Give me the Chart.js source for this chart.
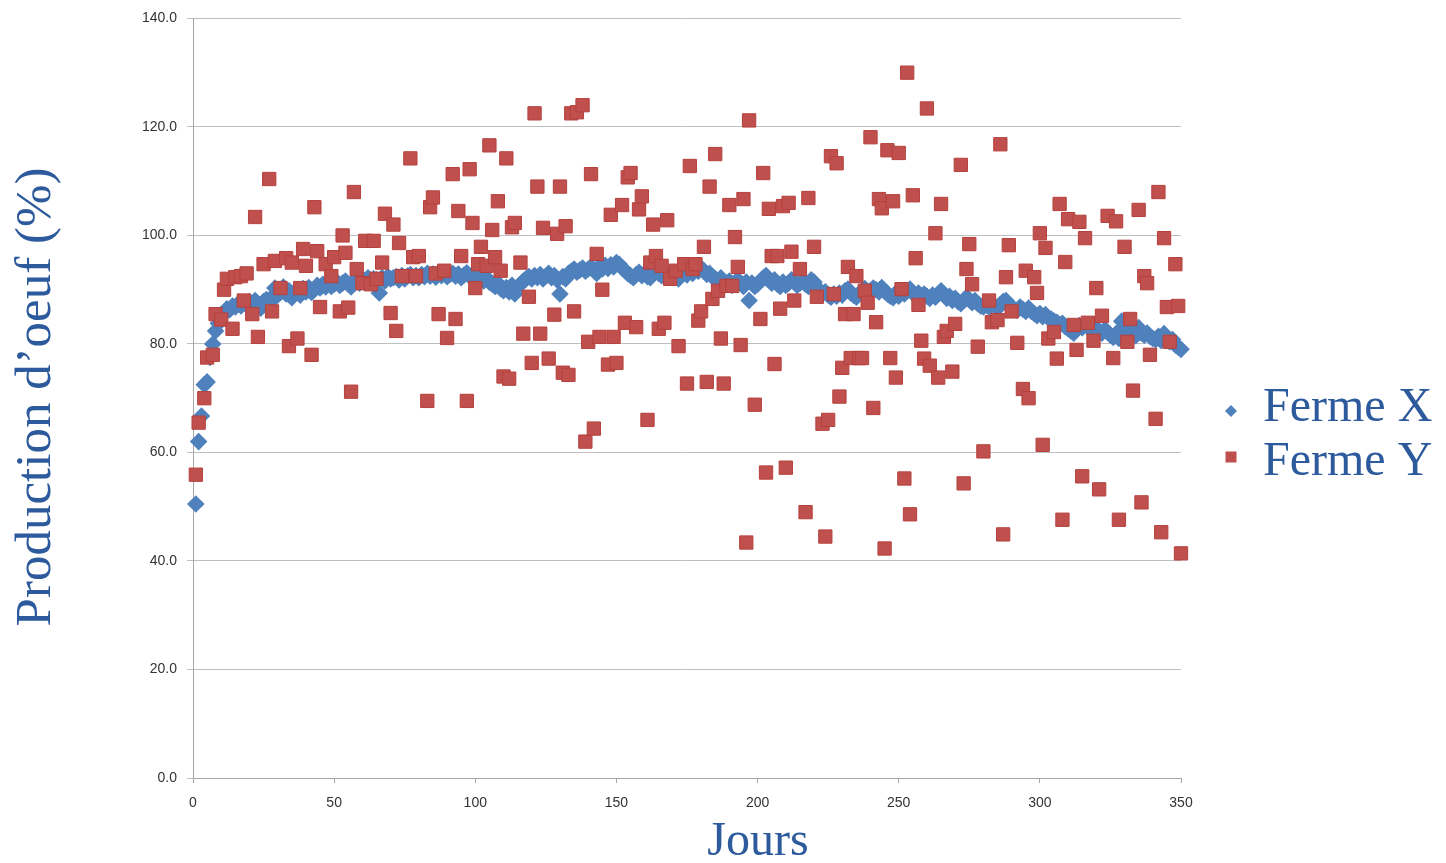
<!DOCTYPE html>
<html><head><meta charset="utf-8">
<script src="https://cdn.jsdelivr.net/npm/chart.js@4.4.1/dist/chart.umd.min.js"></script>
<style>html,body{margin:0;padding:0;background:#fff;overflow:hidden}#wrap{width:1446px;height:863px;position:relative}</style>
</head><body><div id="wrap"><canvas id="c"></canvas></div>
<script>
const seriesNames = ["Ferme X", "Ferme Y"];
const xTitle = "Jours";
const yTitle = "Production d’oeuf (%)";

const fermeXDays = Array.from({length: 350}, (_, i) => i + 1);
const fermeXValues = [
50.5,62.0,66.7,72.5,73.0,77.5,80.0,82.4,83.8,85.0,
85.6,86.5,86.3,87.0,86.8,87.4,87.0,87.6,87.2,87.8,
87.5,88.0,87.2,86.6,87.8,88.2,87.6,88.6,90.3,89.0,
89.5,90.5,89.2,89.8,88.5,89.6,90.0,89.0,90.2,89.6,
90.4,89.5,90.0,90.8,90.3,91.0,90.5,91.2,90.6,91.0,
91.4,90.8,91.2,91.6,91.0,90.5,91.5,91.8,91.2,92.0,
91.6,92.2,91.5,92.0,91.8,89.4,92.2,91.6,92.4,92.0,
92.2,92.4,91.8,92.6,92.0,92.5,92.8,92.2,92.6,92.2,
92.8,92.4,93.0,92.5,92.9,92.3,93.1,92.6,93.0,92.4,
92.8,93.0,92.5,92.9,92.2,92.7,93.1,92.5,92.8,92.2,
92.6,92.0,91.6,92.2,91.4,91.0,90.6,91.2,90.2,89.8,
90.4,89.6,90.8,89.2,90.5,91.0,91.6,92.0,92.4,92.0,
92.6,92.2,92.8,92.0,92.5,93.0,92.2,92.6,91.8,89.2,
92.4,92.0,93.0,93.4,93.8,93.2,93.6,94.0,93.4,93.8,
94.2,93.6,93.0,94.3,93.8,94.5,93.9,94.6,94.2,95.0,
94.7,94.0,93.5,93.0,92.6,92.2,92.8,93.2,92.6,93.0,
92.4,92.2,92.8,93.4,93.0,92.6,93.2,92.7,92.4,93.0,
92.5,92.0,92.8,93.3,92.7,93.6,93.0,94.0,93.4,94.0,
93.5,92.8,93.0,92.4,92.0,91.6,92.2,91.6,91.0,91.6,
90.8,91.3,91.8,91.2,90.6,91.4,88.0,91.2,90.6,91.0,
91.6,92.2,92.6,91.8,91.2,91.8,91.0,90.6,91.4,90.8,
91.2,91.8,91.4,90.8,91.2,91.6,91.0,90.6,91.8,91.4,
90.4,89.8,89.2,89.6,89.0,88.6,89.2,88.8,89.4,89.0,
89.8,90.1,89.4,89.0,88.6,89.2,89.8,90.2,89.5,89.8,
90.3,90.0,89.6,90.4,89.7,89.2,88.8,88.5,89.4,88.8,
89.6,89.2,89.8,90.1,89.4,88.9,89.4,88.6,89.2,88.8,
88.4,89.0,88.6,89.2,89.8,89.2,88.4,88.8,88.0,88.4,
87.8,87.4,88.0,88.6,88.2,87.6,88.0,87.4,87.0,86.8,
87.2,86.8,87.4,87.0,86.6,87.2,87.8,88.0,87.2,86.8,
86.4,86.2,86.8,86.4,86.0,86.6,86.0,85.6,85.2,85.6,
85.0,85.4,84.8,84.6,84.2,84.0,83.6,83.8,83.2,82.8,
82.4,82.0,82.8,83.4,83.0,83.6,83.2,82.6,83.3,82.8,
82.4,82.0,82.6,82.2,81.6,81.2,81.9,81.0,84.2,83.2,
82.4,81.8,82.2,81.5,83.0,82.0,81.6,82.0,81.4,81.0,
80.8,81.4,80.6,81.9,81.0,80.4,80.8,79.8,79.4,79.0];

const fermeYDays = [
1,2,4,5,7,8,10,11,12,14,15,17,18,19,21,22,23,25,27,28,
29,31,33,34,35,37,38,39,40,42,43,44,45,47,49,50,52,53,54,55,
56,57,58,60,61,63,64,65,67,68,70,71,72,73,74,77,78,79,80,83,
84,85,86,87,89,90,92,93,94,95,97,98,99,100,101,102,104,105,106,107,
108,109,110,111,112,113,114,116,117,119,120,121,122,123,124,126,128,129,130,131,
132,133,134,135,136,138,139,140,141,142,143,144,145,147,148,149,150,152,153,154,
155,157,158,159,161,162,163,164,165,166,167,168,169,171,172,174,175,176,177,178,
179,180,181,182,183,184,185,186,187,188,189,190,191,192,193,194,195,196,197,199,
201,202,203,204,205,206,207,208,209,210,211,212,213,215,217,218,220,221,223,224,
225,226,227,228,229,230,231,232,233,234,235,236,237,238,239,240,241,242,243,244,
245,246,247,248,249,250,251,252,253,254,255,256,257,258,259,260,261,263,264,265,
266,267,269,270,272,273,274,275,276,278,280,282,283,285,286,287,288,289,290,292,
294,295,296,298,299,300,301,302,303,305,306,307,308,309,310,312,313,314,315,316,
317,319,320,321,322,324,326,327,328,330,331,332,333,335,336,337,338,339,341,342,
343,344,345,346,348,349,350];
const fermeYValues = [
55.9,65.5,70.0,77.5,78.0,85.5,84.5,90.0,92.0,82.8,92.3,92.5,88.0,93.0,85.5,103.4,81.3,94.7,110.4,86.0,
95.3,90.3,95.8,79.6,95.0,81.0,90.3,97.5,94.4,78.0,105.2,97.1,86.8,94.7,92.5,96.0,86.0,100.0,96.8,86.7,
71.2,108.0,93.8,91.2,99.0,91.0,99.0,92.0,95.0,104.0,85.7,102.0,82.4,98.6,92.5,114.2,96.0,92.5,96.2,69.5,
105.2,107.0,93.0,85.5,93.5,81.1,111.3,84.6,104.5,96.2,69.5,112.2,102.3,90.3,94.7,97.9,94.4,116.6,101.0,96.0,
106.3,93.5,74.0,114.2,73.6,101.5,102.3,95.0,81.9,88.7,76.5,122.5,109.0,81.9,101.4,77.3,85.4,100.3,109.0,74.7,
101.7,74.3,122.5,86.0,122.7,124.0,62.0,80.4,111.3,64.4,96.6,81.3,90.0,76.2,103.8,81.3,76.5,105.6,83.9,110.7,
111.5,83.1,104.8,107.2,66.0,95.0,102.0,96.2,82.8,94.4,83.9,102.8,92.0,93.5,79.6,94.7,72.7,112.8,93.8,94.7,
84.3,86.0,97.9,73.0,109.0,88.3,115.0,89.8,81.0,72.7,90.7,105.6,90.7,99.7,94.2,79.8,106.7,43.4,121.2,68.8,
84.6,111.5,56.3,104.9,96.2,76.3,96.2,86.5,105.4,57.2,106.0,97.0,88.0,93.8,49.0,106.9,97.9,88.7,65.3,44.5,
66.0,114.6,89.2,113.3,70.3,75.6,85.5,94.2,77.4,85.5,92.5,77.4,77.4,89.8,87.6,118.1,68.2,84.0,106.7,105.0,
42.3,115.7,77.4,106.3,73.8,115.2,90.1,55.2,130.0,48.6,107.4,95.8,87.2,80.6,77.3,123.4,76.0,100.4,73.8,105.8,
81.3,82.4,74.9,83.7,113.0,54.3,93.8,98.4,91.0,79.5,60.2,88.0,84.0,84.4,116.8,44.9,92.3,98.2,86.0,80.2,
71.7,93.5,70.0,92.3,89.4,100.4,61.4,97.7,81.0,82.2,77.3,105.8,47.6,95.1,103.0,83.5,78.9,102.5,55.6,99.5,
83.9,80.6,90.3,53.2,85.2,103.6,77.4,102.6,47.6,97.9,80.4,84.6,71.4,104.7,50.8,92.5,91.2,78.0,66.2,108.0,
45.3,99.5,86.8,80.4,94.7,87.0,41.4];

const xTicks = [0, 50, 100, 150, 200, 250, 300, 350];
const yTicks = [0, 20, 40, 60, 80, 100, 120, 140];

const blue = '#4F81BD', red = '#C0504D', titleColor = '#2C5A9C';

const toPts = (xs, ys) => xs.map((x, i) => ({x, y: ys[i]}));

const decor = {
  id: 'decor',
  afterDraw(chart) {
    const ctx = chart.ctx;
    ctx.save();
    ctx.fillStyle = titleColor;
    ctx.textBaseline = 'alphabetic';
    ctx.font = '48px "Liberation Serif"';
    ctx.textAlign = 'center';
    ctx.fillText(xTitle, 758, 855);
    ctx.save();
    ctx.translate(50, 397);
    ctx.rotate(-Math.PI / 2);
    ctx.font = '51px "Liberation Serif"';
    ctx.fillText(yTitle, 0, 0);
    ctx.restore();
    // legend
    ctx.textAlign = 'left';
    ctx.font = '48px "Liberation Serif"';
    ctx.fillText(seriesNames[0], 1263, 421);
    ctx.fillText(seriesNames[1], 1263, 475);
    ctx.fillStyle = blue;
    ctx.beginPath();
    ctx.moveTo(1231, 405); ctx.lineTo(1237, 411); ctx.lineTo(1231, 417); ctx.lineTo(1225, 411);
    ctx.closePath(); ctx.fill();
    ctx.fillStyle = red;
    ctx.fillRect(1225.5, 451.5, 11, 11);
    ctx.restore();
  }
};

new Chart(document.getElementById('c'), {
  type: 'scatter',
  data: {
    datasets: [
      { label: seriesNames[0], data: toPts(fermeXDays, fermeXValues), pointStyle: 'rectRot',
        pointRadius: 8.8, pointHoverRadius: 8.8, backgroundColor: blue, borderColor: blue, borderWidth: 0,
        order: 1, clip: false },
      { label: seriesNames[1], data: toPts(fermeYDays, fermeYValues), pointStyle: 'rect',
        pointRadius: 9.4, pointHoverRadius: 9.4, backgroundColor: red, borderColor: '#B5403D', borderWidth: 1,
        order: 0, clip: false }
    ]
  },
  options: {
    responsive: true, maintainAspectRatio: false, animation: false, devicePixelRatio: 1,
    layout: { autoPadding: false, padding: { top: 17, right: 265, left: 0, bottom: 0 } },
    plugins: { legend: { display: false }, tooltip: { enabled: false } },
    events: [],
    scales: {
      x: {
        type: 'linear', min: 0, max: 350,
        afterFit(s) { s.height = 85; },
        afterBuildTicks(s) { s.ticks = xTicks.map(v => ({value: v})); },
        ticks: { font: { family: '"Liberation Sans"', size: 14 }, color: '#333333', padding: 12, maxRotation: 0 },
        grid: { drawOnChartArea: false, drawTicks: true, tickLength: 5, color: '#A6A6A6' },
        border: { color: '#A6A6A6', width: 1 }
      },
      y: {
        type: 'linear', min: 0, max: 140,
        afterFit(s) { s.width = 193; },
        afterBuildTicks(s) { s.ticks = yTicks.map(v => ({value: v})); },
        ticks: { font: { family: '"Liberation Sans"', size: 14 }, color: '#333333', padding: 10,
          callback: v => Number(v).toFixed(1) },
        grid: { drawTicks: true, tickLength: 6, color: '#BFBFBF' },
        border: { color: '#A6A6A6', width: 1 }
      }
    }
  },
  plugins: [decor]
});
</script></body></html>
